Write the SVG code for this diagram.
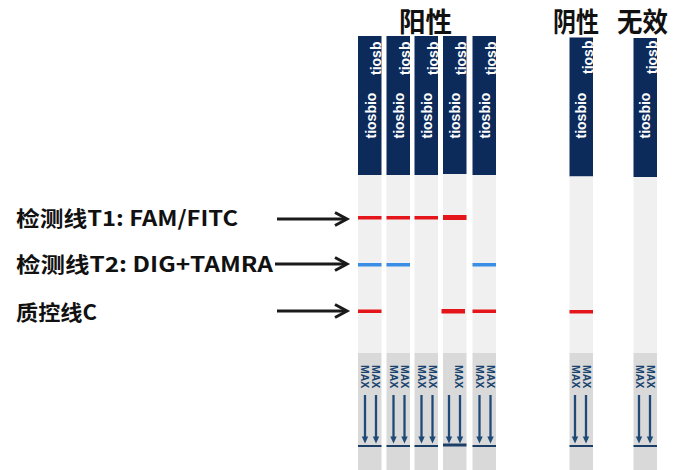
<svg xmlns="http://www.w3.org/2000/svg" width="678" height="470" viewBox="0 0 678 470">
<style>
.bg{fill:#ffffff}
.navy{fill:#0c2a5a}
.lite{fill:#f0f0f0}
.dark{fill:#d9d9d9}
.red{fill:#e5161b}
.blue{fill:#3a8ee6}
.brand{font-family:"Liberation Sans",Arial,sans-serif;font-weight:bold;font-size:14px;fill:#ffffff}
.max{font-family:"Liberation Sans",Arial,sans-serif;font-weight:bold;font-size:10.5px;fill:#1a4470}
.shaft{stroke:#1f4a78;stroke-width:2.3;fill:none}
.head{fill:#1f4a78}
.base{stroke:#1b3f66;stroke-width:2}
.lbl{font-family:"Noto Sans CJK SC","Microsoft YaHei",sans-serif;font-weight:bold;font-size:21px;fill:#111111}
.hd{font-family:"Noto Sans CJK SC","Microsoft YaHei",sans-serif;font-weight:bold;font-size:27px;fill:#111111}
.conn{stroke:#1a1a1a;stroke-width:3;fill:none}
</style>
<defs>
<g id="arrowpair">
<line class="shaft" x1="7" y1="395" x2="7" y2="438"/>
<polygon class="head" points="3.8,436.5 10.2,436.5 7,443.5"/>
<line class="shaft" x1="18" y1="395" x2="18" y2="438"/>
<polygon class="head" points="14.8,436.5 21.2,436.5 18,443.5"/>
</g>
</defs>
<rect class="bg" x="0" y="0" width="678" height="470"/>

<g id="headings">
<text class="hd" x="399" y="32" textLength="53" lengthAdjust="spacingAndGlyphs">阳性</text>
<text class="hd" x="553" y="32" textLength="46" lengthAdjust="spacingAndGlyphs">阴性</text>
<text class="hd" x="617" y="32" textLength="51" lengthAdjust="spacingAndGlyphs">无效</text>
</g>

<g id="labels">
<text class="lbl" x="16" y="226" textLength="222" lengthAdjust="spacingAndGlyphs">检测线T1: FAM/FITC</text>
<text class="lbl" x="16" y="272" textLength="257" lengthAdjust="spacingAndGlyphs">检测线T2: DIG+TAMRA</text>
<text class="lbl" x="16" y="320" textLength="81" lengthAdjust="spacingAndGlyphs">质控线C</text>
</g>

<g id="strip1" transform="translate(358,0)">
<rect class="navy" x="0" y="36" width="23.5" height="139"/>
<rect class="lite" x="0" y="175" width="23.5" height="178"/>
<rect class="dark" x="0" y="353" width="23.5" height="117"/>
<text class="brand" transform="translate(18,138.5) rotate(-90)">tiosbio</text>
<text class="brand" transform="translate(23,75) rotate(-90)">tiosb</text>
<rect class="red" x="0" y="216" width="23.5" height="3.5"/>
<rect class="blue" x="0" y="263" width="23.5" height="3.5"/>
<rect class="red" x="0" y="309.5" width="23.5" height="3.5"/>
<text class="max" transform="translate(3,365) rotate(90)">MAX</text>
<text class="max" transform="translate(14,365) rotate(90)">MAX</text>
<use href="#arrowpair"/>
<line class="base" x1="0" y1="446" x2="23.5" y2="446"/>
</g>

<g id="strip2" transform="translate(386.5,0)">
<rect class="navy" x="0" y="36" width="23.5" height="139"/>
<rect class="lite" x="0" y="175" width="23.5" height="178"/>
<rect class="dark" x="0" y="353" width="23.5" height="117"/>
<text class="brand" transform="translate(17,138.5) rotate(-90)">tiosbio</text>
<text class="brand" transform="translate(23,75) rotate(-90)">tiosb</text>
<rect class="red" x="0" y="216" width="23.5" height="3.5"/>
<rect class="blue" x="0" y="263" width="23.5" height="3.5"/>
<text class="max" transform="translate(3,365) rotate(90)">MAX</text>
<text class="max" transform="translate(14,365) rotate(90)">MAX</text>
<use href="#arrowpair"/>
<line class="base" x1="0" y1="446" x2="23.5" y2="446"/>
</g>

<g id="strip3" transform="translate(414.5,0)">
<rect class="navy" x="0" y="36" width="23.5" height="139"/>
<rect class="lite" x="0" y="175" width="23.5" height="178"/>
<rect class="dark" x="0" y="353" width="23.5" height="117"/>
<text class="brand" transform="translate(17,138.5) rotate(-90)">tiosbio</text>
<text class="brand" transform="translate(23,75) rotate(-90)">tiosb</text>
<rect class="red" x="0" y="216" width="23.5" height="3.5"/>
<text class="max" transform="translate(3,365) rotate(90)">MAX</text>
<text class="max" transform="translate(14,365) rotate(90)">MAX</text>
<use href="#arrowpair"/>
<line class="base" x1="0" y1="446" x2="23.5" y2="446"/>
</g>

<g id="strip4" transform="translate(443,0)">
<rect class="navy" x="0" y="36" width="23.5" height="138"/>
<rect class="lite" x="0" y="174" width="23.5" height="179"/>
<rect class="dark" x="0" y="353" width="23.5" height="117"/>
<text class="brand" transform="translate(17,138.5) rotate(-90)">tiosbio</text>
<text class="brand" transform="translate(23,75) rotate(-90)">tiosb</text>
<rect class="red" x="0" y="215" width="23.5" height="5"/>
<rect class="red" x="-1.5" y="309" width="23.5" height="4.5"/>
<text class="max" transform="translate(12,365) rotate(90)">MAX</text>
<g transform="translate(-1,0)"><use href="#arrowpair"/></g>
<line class="base" x1="0" y1="445" x2="23.5" y2="445" style="stroke-width:3"/>
</g>

<g id="strip5" transform="translate(472.5,0)">
<rect class="navy" x="0" y="36" width="23.5" height="139"/>
<rect class="lite" x="0" y="175" width="23.5" height="178"/>
<rect class="dark" x="0" y="353" width="23.5" height="117"/>
<text class="brand" transform="translate(17,138.5) rotate(-90)">tiosbio</text>
<text class="brand" transform="translate(23,75) rotate(-90)">tiosb</text>
<rect class="blue" x="0" y="263" width="23.5" height="3.5"/>
<rect class="red" x="0" y="309.5" width="23.5" height="3.5"/>
<text class="max" transform="translate(3,365) rotate(90)">MAX</text>
<text class="max" transform="translate(14,365) rotate(90)">MAX</text>
<use href="#arrowpair"/>
<line class="base" x1="0" y1="446" x2="23.5" y2="446"/>
</g>

<g id="strip-negative" transform="translate(569.5,0)">
<rect class="navy" x="0" y="37.5" width="23.5" height="139"/>
<rect class="lite" x="0" y="176.5" width="23.5" height="176.5"/>
<rect class="dark" x="0" y="353" width="23.5" height="117"/>
<text class="brand" transform="translate(16,138.5) rotate(-90)">tiosbio</text>
<text class="brand" transform="translate(23,74) rotate(-90)">tiosb</text>
<rect class="red" x="0" y="310" width="23.5" height="3.5"/>
<text class="max" transform="translate(2,365) rotate(90)">MAX</text>
<text class="max" transform="translate(13,365) rotate(90)">MAX</text>
<g transform="translate(-1.5,0)"><use href="#arrowpair"/></g>
<line class="base" x1="0" y1="446" x2="23.5" y2="446"/>
</g>

<g id="strip-invalid" transform="translate(633.5,0)">
<rect class="navy" x="0" y="38" width="23.5" height="139"/>
<rect class="lite" x="0" y="177" width="23.5" height="176"/>
<rect class="dark" x="0" y="353" width="23.5" height="117"/>
<text class="brand" transform="translate(16,138.5) rotate(-90)">tiosbio</text>
<text class="brand" transform="translate(23,74) rotate(-90)">tiosb</text>
<text class="max" transform="translate(2,365) rotate(90)">MAX</text>
<text class="max" transform="translate(13,365) rotate(90)">MAX</text>
<g transform="translate(-1.5,0)"><use href="#arrowpair"/></g>
<line class="base" x1="0" y1="446" x2="23.5" y2="446"/>
</g>

<g id="connectors">
<line class="conn" x1="277" y1="219" x2="346" y2="219"/>
<polyline class="conn" points="335,212.5 347,219 335,225.5"/>
<line class="conn" x1="275" y1="264" x2="346" y2="264"/>
<polyline class="conn" points="335,257.5 347,264 335,270.5"/>
<line class="conn" x1="277" y1="311" x2="346" y2="311"/>
<polyline class="conn" points="335,304.5 347,311 335,317.5"/>
</g>
</svg>
